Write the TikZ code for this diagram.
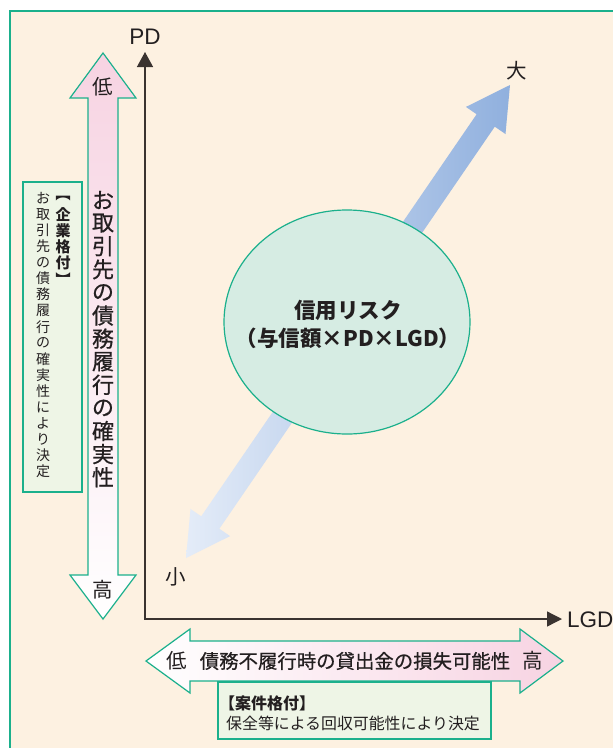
\documentclass[tikz,border=0pt]{standalone}
\usepackage{fontspec}
\setmainfont{Noto Sans CJK JP}
\newfontfamily\jpmed[FakeBold=0.6]{Noto Sans CJK JP}
\newfontfamily\latinsf{Liberation Sans}
\usetikzlibrary{calc,arrows.meta,shapes.geometric}
\definecolor{cream}{HTML}{FDF1E1}
\definecolor{frameg}{HTML}{1BB08C}
\definecolor{pinkc}{HTML}{F7D3E2}
\definecolor{boxg}{HTML}{EEF5E6}
\definecolor{circf}{HTML}{D6ECE3}
\definecolor{bluedk}{HTML}{90B0DE}
\definecolor{bluelt}{HTML}{E4ECF8}
\definecolor{txt}{HTML}{231F20}
\definecolor{axisc}{HTML}{3A3330}
\tikzset{
  every node/.style={inner sep=0pt, text=txt},
  greenline/.style={draw=frameg, line width=1.2pt},
  bigv/.style={font=\jpmed\fontsize{22}{22}\selectfont},
  smallv/.style={font=\fontsize{14}{14}\selectfont},
  smallvb/.style={font=\bfseries\fontsize{15}{15}\selectfont},
  lab/.style={font=\fontsize{20.5}{20.5}\selectfont},
  axislab/.style={font=\latinsf\fontsize{22.5}{22.5}\selectfont},
  axisline/.style={draw=axisc, line width=1.3pt},
}
\begin{document}
\begin{tikzpicture}[x=1pt,y=-1pt]
\clip (0,0) rectangle (613,748);
\useasboundingbox (0,0) rectangle (613,748);
\fill[white] (0,0) rectangle (613,748);
\path[greenline, fill=cream] (10,11) rectangle (700,800);

% diagonal arrow
\coordinate (T1) at (510,85);
\coordinate (T2) at (186,558);
\coordinate (B1) at ($(T1)!43pt!(T2)$);
\coordinate (B2) at ($(T2)!43pt!(T1)$);
\path[left color=bluelt, right color=bluedk]
  (T1) -- ($(B1)!24pt!90:(T1)$) -- ($(B1)!11pt!90:(T1)$)
  -- ($(B2)!11pt!-90:(T2)$) -- ($(B2)!24pt!-90:(T2)$)
  -- (T2) -- ($(B2)!24pt!90:(T2)$) -- ($(B2)!11pt!90:(T2)$)
  -- ($(B1)!11pt!-90:(T1)$) -- ($(B1)!24pt!-90:(T1)$) -- cycle;

% circle
\node[ellipse, greenline, fill=circf, minimum width=246pt, minimum height=224pt] (risk) at (347,322) {};
\node[font=\bfseries\fontsize{21.5}{28}\selectfont, align=center] (risktxt) at (348,324) {信用リスク\\（与信額×PD×LGD）};
\node[lab] (big) at (517,71) {大};
\node[lab] (small) at (176,577) {小};

% axes
\coordinate (pdtip) at (145,52);
\coordinate (orig) at (145,619);
\coordinate (lgdtip) at (562,619);
\draw[axisline, {Triangle[length=15pt,width=16pt]}-{Triangle[length=15pt,width=15pt]}] (pdtip) -- (orig) -- (lgdtip);
\node[axislab] (pd) at (145,37) {PD};
\node[axislab, anchor=west] (lgd) at (567,620) {LGD};

% vertical pink arrow
\path[greenline, top color=pinkc, bottom color=white]
  (103,53) -- (136,98) -- (118,98) -- (118,575) -- (136,575) -- (103,619)
  -- (70,575) -- (88,575) -- (88,98) -- (70,98) -- cycle;
\node[lab] (low1) at (103,87) {低};
\node[lab] (high1) at (103,590) {高};
\foreach \c [count=\i from 0] in {お,取,引,先,の,債,務,履,行,の,確,実,性}
  \node[bigv] (bv\i) at (103,{200+23.1*\i}) {\c};

% left small box
\path[greenline, fill=boxg] (23,182) rectangle (82,492);
\foreach \c [count=\i from 0] in {︻,企,業,格,付,︼}
  \node[smallvb] (rv\i) at (63,{199+16*\i}) {\c};
\foreach \c [count=\i from 0] in {お,取,引,先,の,債,務,履,行,の,確,実,性,に,よ,り,決,定}
  \node[smallv] (lv\i) at (43,{198+16.1*\i}) {\c};

% horizontal arrow
\path[greenline, left color=white, right color=pinkc]
  (146,661) -- (190,629) -- (190,641) -- (520,641) -- (520,629) -- (563,661)
  -- (520,693) -- (520,681) -- (190,681) -- (190,693) -- cycle;
\node[lab] (low2) at (177,661) {低};
\node[font=\jpmed\fontsize{19.4}{19.4}\selectfont] (lgdtxt) at (355,661) {債務不履行時の貸出金の損失可能性};
\node[lab] (high2) at (533,661) {高};

% bottom box
\path[greenline, fill=boxg] (218,682) rectangle (491,739);
\node[font=\bfseries\fontsize{16}{16}\selectfont, anchor=west] (case) at (219,703) {【案件格付】};
\node[font=\fontsize{15.9}{15.9}\selectfont, anchor=west] (casetxt) at (226,723) {保全等による回収可能性により決定};
\end{tikzpicture}
\end{document}
